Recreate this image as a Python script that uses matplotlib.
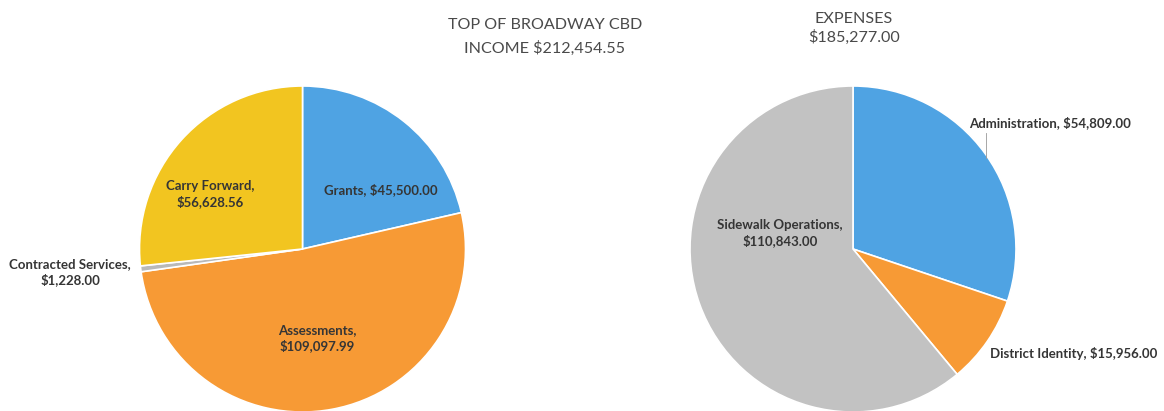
import matplotlib.pyplot as plt

# income pie
renda_nomes = ['Grants', 'Assessments', 'Contracted Services', 'Carry Forward']
renda_valores = [45500.00, 109097.99, 1228.00, 56628.56]
renda_cores = ['#4fa3e3', '#f79a35', '#b9b9b9', '#f2c520']

# expenses pie
gasto_nomes = ['Administration', 'District Identity', 'Sidewalk Operations']
gasto_valores = [54809.00, 15956.00, 110843.00]
gasto_cores = ['#4fa3e3', '#f79a35', '#c2c2c2']

titulo_renda = ['TOP OF BROADWAY CBD', 'INCOME $212,454.55']
titulo_gasto = ['EXPENSES', '$185,277.00']

plt.rcParams['font.family'] = ['Lato', 'DejaVu Sans']

W, H = 1164, 411
fig = plt.figure(figsize=(W / 100, H / 100), dpi=100)


def eixo_pizza(cx, cy, r):
    # cx, cy, r in pixels (y from top)
    ax = fig.add_axes([(cx - r) / W, (H - cy - r) / H, 2 * r / W, 2 * r / H])
    ax.axis('off')
    return ax


def fmt(v):
    return '${:,.2f}'.format(v)


def rotulo(px, py, txt, ha='center'):
    fig.text(px / W, 1 - py / H, txt, ha=ha, va='center', fontsize=9.5,
             fontweight='bold', color='#353535', linespacing=1.3)


def titulo(px, py, txt):
    # py = baseline in pixels from top
    fig.text(px / W, 1 - py / H, txt, ha='center', va='baseline',
             fontsize=11.6, color='#4a4a4a')


# --- left pie ---
ax1 = eixo_pizza(302.5, 249, 163)
ax1.pie(renda_valores, colors=renda_cores, startangle=90, counterclock=False,
        radius=1, wedgeprops=dict(edgecolor='white', linewidth=1.2))
ax1.set_xlim(-1, 1)
ax1.set_ylim(-1, 1)
ax1.set_aspect('equal')

rotulo(381, 190, renda_nomes[0] + ', ' + fmt(renda_valores[0]))
rotulo(317, 338, renda_nomes[1] + ',\n' + fmt(renda_valores[1]))
rotulo(70, 272, renda_nomes[2] + ',\n' + fmt(renda_valores[2]))
rotulo(210, 194, renda_nomes[3] + ',\n' + fmt(renda_valores[3]))

# --- right pie ---
ax2 = eixo_pizza(853, 249, 163)
ax2.pie(gasto_valores, colors=gasto_cores, startangle=90, counterclock=False,
        radius=1, wedgeprops=dict(edgecolor='white', linewidth=1.2))
ax2.set_xlim(-1, 1)
ax2.set_ylim(-1, 1)
ax2.set_aspect('equal')

rotulo(969, 123, gasto_nomes[0] + ', ' + fmt(gasto_valores[0]), ha='left')
rotulo(990, 353, gasto_nomes[1] + ', ' + fmt(gasto_valores[1]), ha='left')
rotulo(780, 233, gasto_nomes[2] + ',\n' + fmt(gasto_valores[2]))

# small leader line for Administration
fig.add_artist(plt.Line2D([986 / W, 986 / W], [1 - 133 / H, 1 - 158 / H],
                          color='#999999', linewidth=0.6))

# titles
titulo(545, 29, titulo_renda[0])
titulo(545, 53, titulo_renda[1])
titulo(854, 23, titulo_gasto[0])
titulo(854, 42, titulo_gasto[1])

fig.savefig('out.png', dpi=100, facecolor='white')
